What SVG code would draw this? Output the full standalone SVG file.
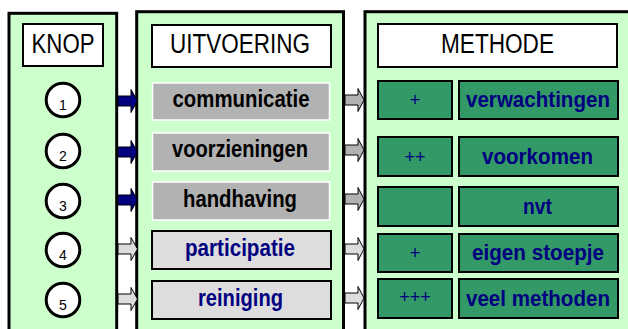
<svg xmlns="http://www.w3.org/2000/svg" width="628" height="329" viewBox="0 0 628 329">
<style>
.panel{fill:#ccffcc;stroke:#000;stroke-width:3}
.title{fill:#fff;stroke:#000;stroke-width:2}
.hdr{font-family:"Liberation Sans Narrow","Liberation Sans",Arial,sans-serif;font-size:27px;fill:#000;text-anchor:middle}
.ua{fill:#b2b2b2;stroke:#fff;stroke-width:1.5}
.ub{fill:#dddddd;stroke:#000;stroke-width:2}
.ut{font-family:"Liberation Sans Narrow","Liberation Sans",Arial,sans-serif;font-weight:bold;font-size:23px;text-anchor:middle}
.mbox{fill:#339966;stroke:#000;stroke-width:2}
.mt{font-family:"Liberation Sans Narrow","Liberation Sans",Arial,sans-serif;font-weight:bold;font-size:22px;fill:#000080;text-anchor:middle}
.pl{font-family:"Liberation Sans",Arial,sans-serif;font-size:18px;fill:#000080;text-anchor:middle}
.circ{fill:#fff;stroke:#000;stroke-width:3}
.dig{font-family:"Liberation Sans Narrow","Liberation Sans",Arial,sans-serif;font-size:14px;fill:#000;text-anchor:middle}
.an{fill:#000080;stroke:#000;stroke-width:1}
.ag{fill:#b2b2b2;stroke:#000;stroke-width:1}
.al{fill:#dddddd;stroke:#000;stroke-width:1}
</style>
<rect width="628" height="329" fill="#fff"/>
<g id="panel-knop">
<rect class="panel" x="9" y="13.3" width="107.7" height="330"/>
<rect class="title" x="23" y="24" width="80" height="42"/>
<text class="hdr" x="63" y="53" textLength="63" lengthAdjust="spacingAndGlyphs">KNOP</text>
</g>
<g id="panel-uitvoering">
<rect class="panel" x="136.7" y="11.7" width="206.8" height="330"/>
<rect class="title" x="152" y="25" width="179" height="42"/>
<text class="hdr" x="240" y="53" textLength="140" lengthAdjust="spacingAndGlyphs">UITVOERING</text>
</g>
<g id="panel-methode">
<rect class="panel" x="365" y="11.7" width="280" height="330"/>
<rect class="title" x="378" y="24" width="239" height="43"/>
<text class="hdr" x="497.5" y="53" textLength="113" lengthAdjust="spacingAndGlyphs">METHODE</text>
</g>
<g id="knop-1"><circle class="circ" cx="63" cy="100" r="16.8"/><text class="dig" x="63" y="110">1</text></g>
<g id="knop-2"><circle class="circ" cx="63" cy="151" r="16.8"/><text class="dig" x="63" y="161">2</text></g>
<g id="knop-3"><circle class="circ" cx="63" cy="201" r="16.8"/><text class="dig" x="63" y="211">3</text></g>
<g id="knop-4"><circle class="circ" cx="63" cy="250" r="16.8"/><text class="dig" x="63" y="260">4</text></g>
<g id="knop-5"><circle class="circ" cx="63" cy="300" r="16.8"/><text class="dig" x="63" y="310">5</text></g>
<g id="uitv-communicatie"><rect class="ua" x="152.5" y="83" width="177" height="37"/><text class="ut" x="241" y="107" textLength="137" lengthAdjust="spacingAndGlyphs">communicatie</text></g>
<g id="uitv-voorzieningen"><rect class="ua" x="152.5" y="133" width="177" height="38"/><text class="ut" x="240" y="157" textLength="136" lengthAdjust="spacingAndGlyphs">voorzieningen</text></g>
<g id="uitv-handhaving"><rect class="ua" x="152.5" y="182" width="177" height="38"/><text class="ut" x="240" y="207" textLength="114" lengthAdjust="spacingAndGlyphs">handhaving</text></g>
<g id="uitv-participatie"><rect class="ub" x="152" y="231" width="179" height="38"/><text class="ut" x="240" y="256" fill="#000080" textLength="110" lengthAdjust="spacingAndGlyphs">participatie</text></g>
<g id="uitv-reiniging"><rect class="ub" x="152" y="281" width="179" height="38"/><text class="ut" x="240.5" y="306" fill="#000080" textLength="85" lengthAdjust="spacingAndGlyphs">reiniging</text></g>
<g id="meth-1"><rect class="mbox" x="378" y="81" width="74" height="38"/><text class="pl" x="415" y="106">+</text><rect class="mbox" x="459" y="81" width="159" height="38"/><text class="mt" x="538" y="107" textLength="144" lengthAdjust="spacingAndGlyphs">verwachtingen</text></g>
<g id="meth-2"><rect class="mbox" x="378" y="137" width="74" height="39"/><text class="pl" x="415" y="163">++</text><rect class="mbox" x="459" y="137" width="159" height="39"/><text class="mt" x="537.5" y="163.5" textLength="111" lengthAdjust="spacingAndGlyphs">voorkomen</text></g>
<g id="meth-3"><rect class="mbox" x="378" y="187" width="74" height="39"/><rect class="mbox" x="459" y="187" width="159" height="39"/><text class="mt" x="537.5" y="213.5" textLength="29" lengthAdjust="spacingAndGlyphs">nvt</text></g>
<g id="meth-4"><rect class="mbox" x="378" y="234" width="74" height="38"/><text class="pl" x="415" y="259">+</text><rect class="mbox" x="459" y="234" width="159" height="38"/><text class="mt" x="538" y="260" textLength="132" lengthAdjust="spacingAndGlyphs">eigen stoepje</text></g>
<g id="meth-5"><rect class="mbox" x="378" y="279" width="74" height="39"/><text class="pl" x="415" y="303">+++</text><rect class="mbox" x="459" y="279" width="159" height="39"/><text class="mt" x="538" y="305.5" textLength="144" lengthAdjust="spacingAndGlyphs">veel methoden</text></g>
<g id="connectors">
<path class="an" d="M118,96 H131 V89.5 L137.5,101 L131,112.5 V106 H118 Z"/>
<path class="an" d="M118,147 H131 V140.5 L137.5,152 L131,163.5 V157 H118 Z"/>
<path class="an" d="M118,195 H131 V188.5 L137.5,200 L131,211.5 V205 H118 Z"/>
<path class="al" d="M118,244 H131 V237.5 L137.5,249 L131,260.5 V254 H118 Z"/>
<path class="al" d="M118,294 H131 V287.5 L137.5,299 L131,310.5 V304 H118 Z"/>
<path class="ag" d="M345,95 H358 V88.5 L364,100 L358,111.5 V105 H345 Z"/>
<path class="ag" d="M345,145 H358 V138.5 L364,150 L358,161.5 V155 H345 Z"/>
<path class="ag" d="M345,194 H358 V187.5 L364,199 L358,210.5 V204 H345 Z"/>
<path class="al" d="M345,244 H358 V237.5 L364,249 L358,260.5 V254 H345 Z"/>
<path class="al" d="M345,293 H358 V286.5 L364,298 L358,309.5 V303 H345 Z"/>
</g>
</svg>
